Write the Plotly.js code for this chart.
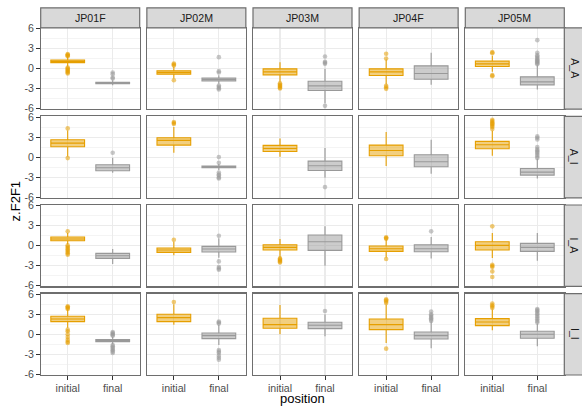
<!DOCTYPE html>
<html>
<head>
<meta charset="utf-8">
<script src="https://cdn.plot.ly/plotly-3.0.1.min.js"></script>
<style>
  html, body { margin: 0; padding: 0; background: #ffffff; }
  #chart { width: 582px; height: 407px; }
</style>
</head>
<body>
<div id="chart"></div>
<script>
// Facet rows (group) and columns (speaker)
const groups = ['A_A', 'A_I', 'I_A', 'I_I'];
const speakers = ['JP01F', 'JP02M', 'JP03M', 'JP04F', 'JP05M'];
const positions = ['initial', 'final'];
const yTickVals = [-6, -3, 0, 3, 6];
const yTickText = ['-6', '-3', '0', '3', '6'];

// Box statistics per [group][speaker]: lower whisker, q1, median, q3, upper whisker
const initialLo  = [[0.3, -1.5, -2.0, -2.4, -0.5], [0.1, 0.65, 0.05, -1.35, 0.2], [0.2, -1.45, -1.75, -1.75, -1.85], [1.0, 1.45, 0.0, -1.3, 0.6]];
const initialQ1  = [[0.88, -0.85, -0.95, -1.05, 0.3], [1.55, 1.8, 0.85, 0.2, 1.25], [0.75, -1.0, -0.65, -0.85, -0.65], [1.9, 1.9, 0.9, 0.7, 1.3]];
const initialMed = [[1.05, -0.6, -0.5, -0.5, 0.7], [2.1, 2.5, 1.3, 1.0, 1.85], [1.0, -0.65, -0.25, -0.45, 0.05], [2.3, 2.5, 1.45, 1.45, 1.85]];
const initialQ3  = [[1.25, -0.35, -0.05, -0.05, 1.1], [2.6, 2.9, 1.75, 1.8, 2.35], [1.3, -0.35, 0.15, -0.05, 0.6], [2.7, 3.0, 2.4, 2.3, 2.35]];
const initialHi  = [[1.8, 0.25, 0.95, 1.35, 1.9], [4.0, 4.5, 2.8, 3.75, 3.95], [1.9, 0.6, 1.0, 0.9, 1.9], [3.7, 4.5, 4.4, 4.45, 3.7]];

const finalLo  = [[-2.5, -2.3, -5.2, -2.45, -3.15], [-2.35, -1.95, -3.1, -2.5, -3.2], [-2.75, -1.8, -3.0, -1.9, -2.25], [-1.45, -1.6, -0.3, -2.1, -1.8]];
const finalQ1  = [[-2.28, -1.85, -3.3, -1.6, -2.45], [-2.05, -1.6, -2.0, -1.45, -2.7], [-1.9, -0.95, -0.7, -0.9, -0.85], [-1.1, -0.65, 0.85, -0.7, -0.6]];
const finalMed = [[-2.15, -1.65, -2.6, -0.75, -2.0], [-1.6, -1.48, -1.3, -0.7, -2.25], [-1.5, -0.5, 0.6, -0.45, -0.25], [-0.95, -0.2, 1.35, -0.2, 0.0]];
const finalQ3  = [[-2.05, -1.45, -1.9, 0.4, -1.25], [-1.15, -1.35, -0.6, 0.35, -1.7], [-1.15, -0.1, 1.6, 0.15, 0.35], [-0.8, 0.2, 1.8, 0.35, 0.45]];
const finalHi  = [[-1.75, -1.0, -0.05, 2.35, 0.5], [-0.1, -1.05, 1.35, 2.6, -0.3], [-0.5, 1.1, 2.9, 1.3, 1.9], [-0.4, 1.4, 3.0, 1.9, 1.6]];

// Outlying observations per [group][speaker]
const initialOut = [
  [[1.85, 1.95, 2.05, 2.15, 0.15, 0.0, -0.15, -0.3, -0.45, -0.6, -0.75], [0.45, 0.6, 0.75, -1.75], [-2.2, -2.4, -2.55, -2.7, -2.85, -3.0], [1.5, 2.2, -2.6, -2.8, -3.05], [2.3, 2.45, -1.0, -1.15]],
  [[4.3, -0.15], [4.95, 5.1, 5.25], [], [], [4.2, 4.5, 4.7, 4.9, 5.05, 5.2, 5.4, 5.6]],
  [[2.15, 0.05, -0.15, -0.35, -0.55, -0.75, -0.95, -1.15, -1.35], [0.9], [-1.9, -2.05, -2.2, -2.35, -2.5], [1.05, 1.15, 1.25, -2.0], [2.9, -2.85, -3.05, -3.2, -3.85, -4.7]],
  [[3.8, 3.95, 4.1, 4.2, 0.7, 0.45, 0.0, -0.4, -0.8, -1.1, -1.3], [4.85], [], [4.7, 4.9, 5.1, 5.25, -2.15], [3.95, 4.15, 4.35, 4.6]]
];
const finalOut = [
  [[-0.6, -0.85, -1.35, -1.5], [1.7, -0.4, -0.6, -2.55, -2.75, -2.95, -3.15], [1.8, 1.0, 0.85, 0.7, -5.6], [], [0.65, 0.8, 0.95, 1.1, 1.25, 1.4, 1.6, 1.8, 2.0, 2.35, 4.25]],
  [[0.65], [0.0, -0.85, -2.3, -2.6, -2.75, -3.05, -3.2], [-4.5], [], [-0.15, 0.1, 0.35, 0.6, 0.8, 1.0, 1.2, 1.5, 2.65, 2.9, 3.1]],
  [[], [1.5, -2.35, -3.2, -3.4, -3.6], [], [2.15], []],
  [[0.35, 0.2, 0.05, -0.1, -0.2, -1.6, -1.8, -2.0, -2.2, -2.4, -2.6, -2.8], [1.6, 1.75, 1.9, -2.35, -2.6, -2.8, -3.2, -3.5, -3.8], [3.5], [2.0, 2.2, 2.4, 2.6, 2.8, 3.0, 3.4], [1.75, 2.0, 2.25, 2.5, 2.75, 3.0, 3.2, 3.45, 3.65, 3.8]]
];

// ---- styling / geometry (pixels) ----
const W = 582, H = 407;
const FONT = 'Liberation Sans, Arial, Helvetica, sans-serif';
const colLeft0 = 40.7, colStep = 106.15, panelW = 99;
const rowTop0 = 27.8, rowStep = 88.6, panelH = 81.4;
const stripSize = 20;
const borderColor = '#6E6E6E';
const gridColor = '#EBEBEB';
const orange = '#E69F00', gray = '#999999';

const px = v => v / W;
const py = v => 1 - v / H;

const stats = {
  initial: { lo: initialLo, q1: initialQ1, med: initialMed, q3: initialQ3, hi: initialHi, out: initialOut,
             line: orange, fill: 'rgba(230,159,0,0.5)', pt: 'rgba(230,159,0,0.55)' },
  final:   { lo: finalLo, q1: finalQ1, med: finalMed, q3: finalQ3, hi: finalHi, out: finalOut,
             line: gray, fill: 'rgba(153,153,153,0.5)', pt: 'rgba(153,153,153,0.55)' }
};

const traces = [];
const layout = {
  width: W, height: H,
  margin: { l: 0, r: 0, t: 0, b: 0 },
  paper_bgcolor: '#ffffff', plot_bgcolor: '#ffffff',
  showlegend: false,
  boxmode: 'overlay',
  font: { family: FONT, size: 10.6, color: '#4D4D4D' },
  shapes: [], annotations: []
};

groups.forEach((g, r) => {
  speakers.forEach((s, c) => {
    const k = r * speakers.length + c + 1;
    const xa = 'x' + (k === 1 ? '' : k), ya = 'y' + (k === 1 ? '' : k);
    const left = colLeft0 + c * colStep, top = rowTop0 + r * rowStep;
    const bottomRow = r === groups.length - 1, firstCol = c === 0;

    layout['xaxis' + (k === 1 ? '' : k)] = {
      domain: [px(left), px(left + panelW)], anchor: ya,
      type: 'category', categoryorder: 'array', categoryarray: positions,
      range: [-0.6, 1.6], fixedrange: true,
      showgrid: true, gridcolor: gridColor, gridwidth: 1.1, zeroline: false,
      showline: true, mirror: true, linecolor: borderColor, linewidth: 1.2,
      ticks: bottomRow ? 'outside' : '', ticklen: 3.5, tickwidth: 1, tickcolor: '#333333',
      showticklabels: bottomRow, tickfont: { family: FONT, size: 10.6, color: '#4D4D4D' }
    };
    layout['yaxis' + (k === 1 ? '' : k)] = {
      domain: [py(top + panelH), py(top)], anchor: xa,
      range: [-6.1, 6.1], fixedrange: true,
      tickmode: 'array', tickvals: yTickVals, ticktext: yTickText,
      showgrid: true, gridcolor: gridColor, gridwidth: 1.1, zeroline: false,
      minor: { tickmode: 'array', tickvals: [-4.5, -1.5, 1.5, 4.5], showgrid: true, gridcolor: gridColor, gridwidth: 0.55, ticks: '' },
      showline: true, mirror: true, linecolor: borderColor, linewidth: 1.2,
      ticks: firstCol ? 'outside' : '', ticklen: 3.5, tickwidth: 1, tickcolor: '#333333',
      showticklabels: firstCol, tickfont: { family: FONT, size: 10.6, color: '#4D4D4D' }
    };

    positions.forEach(p => {
      const st = stats[p];
      traces.push({
        type: 'box', orientation: 'v', xaxis: xa, yaxis: ya,
        x: [p], lowerfence: [st.lo[r][c]], q1: [st.q1[r][c]], median: [st.med[r][c]],
        q3: [st.q3[r][c]], upperfence: [st.hi[r][c]],
        width: 0.75, whiskerwidth: 0, boxpoints: false,
        fillcolor: st.fill, line: { color: st.line, width: 1.1 },
        hoverinfo: 'skip', showlegend: false
      });
      const outs = st.out[r][c];
      if (outs.length) {
        traces.push({
          type: 'scatter', mode: 'markers', xaxis: xa, yaxis: ya,
          x: outs.map(() => p), y: outs,
          marker: { color: st.pt, size: 4.6, line: { width: 0 } },
          hoverinfo: 'skip', showlegend: false
        });
      }
    });

    // top strips (speaker)
    if (r === 0) {
      layout.shapes.push({
        type: 'rect', xref: 'paper', yref: 'paper',
        x0: px(left), x1: px(left + panelW), y0: py(top), y1: py(top - stripSize),
        fillcolor: '#D9D9D9', line: { color: borderColor, width: 1.2 }
      });
      layout.annotations.push({
        xref: 'paper', yref: 'paper', x: px(left + panelW / 2), y: py(top - stripSize / 2),
        text: s, showarrow: false, xanchor: 'center', yanchor: 'middle',
        font: { family: FONT, size: 10.6, color: '#1A1A1A' }
      });
    }
    // right strips (group)
    if (c === speakers.length - 1) {
      const sx = left + panelW;
      layout.shapes.push({
        type: 'rect', xref: 'paper', yref: 'paper',
        x0: px(sx), x1: px(sx + stripSize), y0: py(top + panelH), y1: py(top),
        fillcolor: '#D9D9D9', line: { color: borderColor, width: 1.2 }
      });
      layout.annotations.push({
        xref: 'paper', yref: 'paper', x: px(sx + stripSize / 2), y: py(top + panelH / 2),
        text: g, showarrow: false, textangle: 90, xanchor: 'center', yanchor: 'middle',
        font: { family: FONT, size: 10.6, color: '#1A1A1A' }
      });
    }
  });
});

// axis titles
const panelsMidX = colLeft0 + ((speakers.length - 1) * colStep + panelW) / 2;
const panelsMidY = rowTop0 + ((groups.length - 1) * rowStep + panelH) / 2;
layout.annotations.push({
  xref: 'paper', yref: 'paper', x: px(panelsMidX), y: py(398.5),
  text: 'position', showarrow: false, xanchor: 'center', yanchor: 'middle',
  font: { family: FONT, size: 13, color: '#000000' }
});
layout.annotations.push({
  xref: 'paper', yref: 'paper', x: px(15), y: py(panelsMidY),
  text: 'z.F2F1', showarrow: false, textangle: -90, xanchor: 'center', yanchor: 'middle',
  font: { family: FONT, size: 13, color: '#000000' }
});

Plotly.newPlot('chart', traces, layout, { staticPlot: true, displayModeBar: false });
</script>
</body>
</html>
